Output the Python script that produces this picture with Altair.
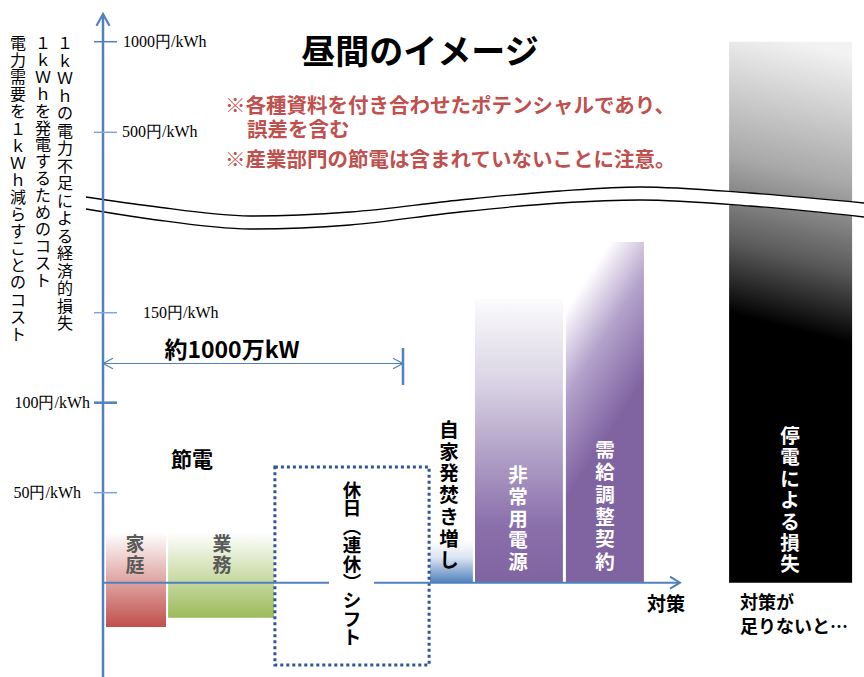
import altair as alt
import pandas as pd

W, H = 864, 677
FONT = "Noto Sans CJK JP"
SERIF = "Liberation Serif"
BLUE = "#4F81BD"
RED = "#C0504D"

# ---------------- data ----------------
measures = ["家庭", "業務", "自家発焚き増し", "非常用電源", "需給調整契約", "停電による損失"]
kw_start = [10, 217, 1090, 1240, 1543, 2087]      # 万kW (cumulative position)
kw_end = [210, 570, 1233, 1533, 1803, 2497]
cost_low = [-24.6, -19.5, 0, 0, 0, 0]             # 円/kWh
cost_high = [28, 28, 23.7, 157.6, 189.3, 1000]

shift_kw = [573, 1087]          # 休日（連休）シフト box
shift_cost = [-45.7, 64.3]

capacity_kw = [0, 1000]         # 約1000万kW

tick_values = [1000, 500, 150, 100, 50]
tick_labels = ["1000円/kWh", "500円/kWh", "150円/kWh", "100円/kWh", "50円/kWh"]

bars = pd.DataFrame({"name": measures, "x0": kw_start, "x1": kw_end,
                     "y0": cost_low, "y1": cost_high})

# ---------------- scales ----------------
XS = alt.Scale(domain=[0, 1000], range=[103, 403], nice=False, zero=False)
YS = alt.Scale(domain=[0, 200, 500, 1000], range=[582.7, 222.7, 132.3, 41.7],
               nice=False, zero=False)
PX = alt.Scale(domain=[0, W], range=[0, W], nice=False, zero=False)
PY = alt.Scale(domain=[0, H], range=[0, H], nice=False, zero=False)

ONE = pd.DataFrame({"_": [0]})


def grad(stops, x1=0, y1=0, x2=0, y2=1):
    return alt.Gradient(gradient="linear",
                        stops=[alt.GradientStop(color=c, offset=o) for o, c in stops],
                        x1=x1, y1=y1, x2=x2, y2=y2)


gradients = {
    "家庭": grad([(0, "#ffffff"), (1, RED)]),
    "業務": grad([(0, "#ffffff"), (1, "#9BBB59")]),
    "自家発焚き増し": grad([(0, "#ffffff"), (0.4, "#dde6f3"), (1, BLUE)]),
    "非常用電源": grad([(0, "#fbfbfc"), (0.3, "#d9d2e4"), (0.55, "#b0a0c6"),
                        (0.8, "#8a6fab"), (1, "#8064A2")]),
    "需給調整契約": grad([(0, "#ffffff"), (0.45, "#b4a2cb"), (1, "#8064A2")],
                        x1=0, y1=0.2, x2=0.174, y2=0.695),
    "停電による損失": grad([(0, "#f2f2f2"), (0.45, "#a8a8a8"), (0.75, "#5a5a5a"),
                          (1, "#000000")], x1=0.53, y1=0, x2=0.5, y2=0.53),
}

layers = []
for m in measures:
    layers.append(
        alt.Chart(bars).transform_filter(alt.datum.name == m)
        .mark_rect(color=gradients[m])
        .encode(x=alt.X("x0:Q", scale=XS, axis=None), x2="x1:Q",
                y=alt.Y("y0:Q", scale=YS, axis=None), y2="y1:Q")
    )

# dotted box for 休日シフト
box = pd.DataFrame({"x0": [shift_kw[0]], "x1": [shift_kw[1]],
                    "y0": [shift_cost[0]], "y1": [shift_cost[1]]})
layers.append(
    alt.Chart(box).mark_rect(fillOpacity=0, stroke="#2B5797", strokeWidth=3,
                             strokeDash=[3, 3])
    .encode(x=alt.X("x0:Q", scale=XS, axis=None), x2="x1:Q",
            y=alt.Y("y0:Q", scale=YS, axis=None), y2="y1:Q")
)

# axis break band (decoration, pixel space)
BREAK_X = [86, 150, 250, 350, 460, 560, 640, 750, 864]
BREAK_TOP = [197, 206, 216, 212, 200, 191, 187, 193, 203]
BREAK_BOT = [209, 219, 229, 225, 212, 203, 200, 206, 217]
brk = pd.DataFrame({"x": BREAK_X, "top": BREAK_TOP, "bot": BREAK_BOT})
layers.append(
    alt.Chart(brk).mark_area(color="white", interpolate="monotone", opacity=1)
    .encode(x=alt.X("x:Q", scale=PX, axis=None),
            y=alt.Y("top:Q", scale=PY, axis=None), y2="bot:Q")
)
for col in ["top", "bot"]:
    layers.append(
        alt.Chart(brk).mark_line(color="black", strokeWidth=1.3, interpolate="monotone")
        .encode(x=alt.X("x:Q", scale=PX, axis=None),
                y=alt.Y(f"{col}:Q", scale=PY, axis=None))
    )


def rule(x, y, x2=None, y2=None, color=BLUE, width=2):
    enc = dict(x=alt.value(x), y=alt.value(y))
    if x2 is not None:
        enc["x2"] = alt.value(x2)
    if y2 is not None:
        enc["y2"] = alt.value(y2)
    return alt.Chart(ONE).mark_rule(color=color, strokeWidth=width).encode(**enc)


def chevron(path, x, y, size, color=BLUE, width=1.5):
    return alt.Chart(ONE).mark_point(shape=path, size=size, filled=False,
                                     color=color, strokeWidth=width, opacity=1) \
        .encode(x=alt.value(x), y=alt.value(y))


# x axis with gap behind the shift label
layers.append(rule(103, 582.7, x2=678, color=BLUE, width=2))
layers.append(alt.Chart(ONE).mark_rect(color="white").encode(
    x=alt.value(329), x2=alt.value(374), y=alt.value(578), y2=alt.value(588)))
layers.append(chevron("M-1.67,-1L0,0L-1.67,1", 680, 582.7, 144, width=2))
# y axis
layers.append(rule(103, 677, y2=15, color=BLUE, width=2.5))
layers.append(chevron("M-1,1.8L0,0L1,1.8", 103, 14, 169, width=2.2))

# ticks and tick labels through the cost scale
ticks = pd.DataFrame({"v": tick_values, "t": tick_labels})
for v in tick_values:
    layers.append(
        alt.Chart(ticks).transform_filter(alt.datum.v == v)
        .mark_rule(color=BLUE if v in (100, 1000) else "#7FA6D6",
                   strokeWidth=2.5 if v == 100 else 1.5)
        .encode(x=alt.value(94), x2=alt.value(117),
                y=alt.Y("v:Q", scale=YS, axis=None))
    )
label_pos = {1000: (123, "left"), 500: (122, "left"), 150: (143, "left"),
             100: (90, "right"), 50: (81, "right")}
for v in tick_values:
    px, al = label_pos[v]
    layers.append(
        alt.Chart(ticks).transform_filter(alt.datum.v == v)
        .mark_text(font=SERIF, fontSize=16, align=al, baseline="middle", color="black")
        .encode(x=alt.value(px), y=alt.Y("v:Q", scale=YS, axis=None), text="t:N")
    )

# 約1000万kW arrow, through the kW scale
cap = pd.DataFrame({"a": [capacity_kw[0]], "b": [capacity_kw[1]]})
layers.append(
    alt.Chart(cap).mark_rule(color=BLUE, strokeWidth=1.2)
    .encode(x=alt.X("a:Q", scale=XS, axis=None), x2="b:Q", y=alt.value(363.5))
)
layers.append(
    alt.Chart(cap).mark_rule(color=BLUE, strokeWidth=2.5)
    .encode(x=alt.X("b:Q", scale=XS, axis=None), y=alt.value(348), y2=alt.value(385))
)
layers.append(
    alt.Chart(cap).mark_point(shape="M1.9,-1L0,0L1.9,1", size=110, filled=False,
                              color=BLUE, strokeWidth=1.2, opacity=1)
    .encode(x=alt.X("a:Q", scale=XS, axis=None), y=alt.value(363.5))
)
layers.append(
    alt.Chart(cap).mark_point(shape="M-1.9,-1L0,0L-1.9,1", size=110, filled=False,
                              color=BLUE, strokeWidth=1.2, opacity=1)
    .encode(x=alt.X("b:Q", scale=XS, axis=None), y=alt.value(363.5))
)


def txt(s, x, y, size, color="black", weight="bold", align="center",
        baseline="middle", font=FONT, lh=None):
    kw = dict(align=align, baseline=baseline, font=font, fontSize=size,
              fontWeight=weight, color=color, lineBreak="\n")
    if lh:
        kw["lineHeight"] = lh
    return alt.Chart(ONE).mark_text(**kw).encode(
        x=alt.value(x), y=alt.value(y), text=alt.value(s))


def vert(s, x, top, size, lh, color="black", weight="bold"):
    return txt("\n".join(list(s)), x, top, size, color=color, weight=weight,
               baseline="top", lh=lh)


# titles / notes
layers.append(txt("昼間のイメージ", 420, 54, 34, weight="bold"))
layers.append(txt("※各種資料を付き合わせたポテンシャルであり、", 225, 107, 20.5,
                  color=RED, align="left"))
layers.append(txt("誤差を含む", 247, 131, 20.5, color=RED, align="left"))
layers.append(txt("※産業部門の節電は含まれていないことに注意。", 225, 161, 20.5,
                  color=RED, align="left"))

# y axis titles (vertical)
layers.append(vert("１ｋＷｈの電力不足による経済的損失", 65, 36, 16, 17.5, weight="normal"))
layers.append(vert("１ｋＷｈを発電するためのコスト", 43, 36, 16, 16.9, weight="normal"))
layers.append(vert("電力需要を１ｋＷｈ減らすことのコスト", 18, 36, 16, 17.1, weight="normal"))

# labels
layers.append(txt("約1000万kW", 232, 351, 23))
layers.append(txt("節電", 192, 461, 21))
layers.append(vert("家庭", 135, 536, 19, 21, color="#595959"))
layers.append(vert("業務", 222, 536, 19, 21, color="#595959"))
layers.append(vert("休日︵連休︶シフト", 352, 482, 18.5, 18.4))
layers.append(vert("自家発焚き増し", 449, 422, 19.5, 21.7))
layers.append(vert("非常用電源", 518, 467, 19.5, 21.8, color="white"))
layers.append(vert("需給調整契約", 605, 442, 19.5, 22.3, color="white"))
layers.append(vert("停電による損失", 790, 428, 19.5, 21.4, color="white"))
layers.append(txt("対策", 666, 605, 19))
layers.append(txt("対策が", 740, 604, 18, align="left"))
layers.append(txt("足りないと…", 740, 628, 18, align="left"))

chart = (
    alt.layer(*layers)
    .resolve_scale(x="independent", y="independent")
    .properties(width=W, height=H, padding=0,
                autosize=alt.AutoSizeParams(type="none"), background="white")
    .configure_view(strokeWidth=0)
)

chart.save("out.html", embed_options={"renderer": "svg", "actions": False})
